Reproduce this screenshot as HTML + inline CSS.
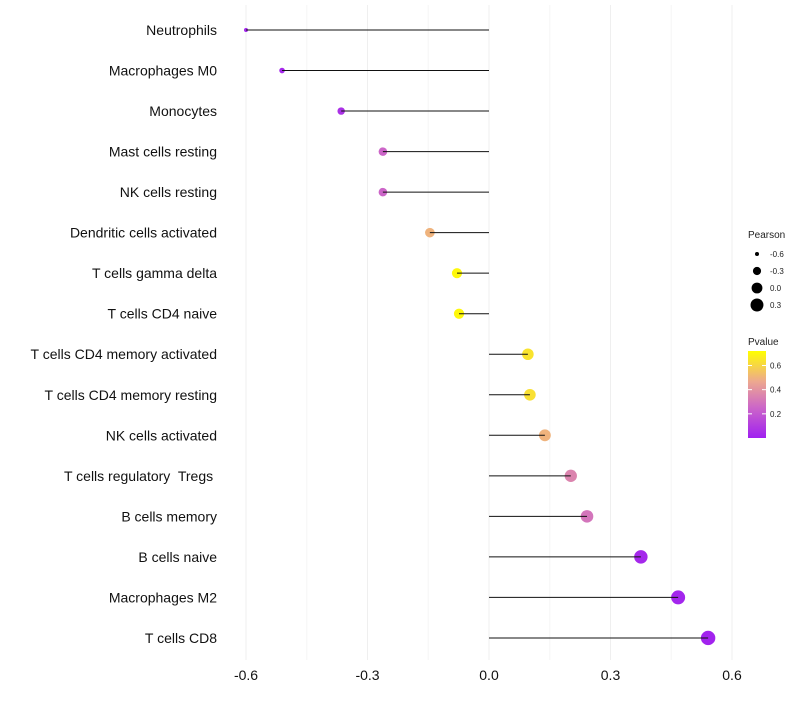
<!DOCTYPE html>
<html><head><meta charset="utf-8"><style>
body{margin:0;background:#fff;font-family:"Liberation Sans",sans-serif}
text{white-space:pre}
</style></head><body>
<svg id="chart" width="800" height="700" xmlns="http://www.w3.org/2000/svg">
<defs><linearGradient id="pg" x1="0" y1="1" x2="0" y2="0">
<stop offset="0" stop-color="#A020F0"/><stop offset="0.35" stop-color="#CC66C8"/><stop offset="0.65" stop-color="#EDA88F"/><stop offset="1" stop-color="#FFFF00"/>
</linearGradient></defs>
<g id="grid"></g><g id="marks"></g><g id="labels"></g><g id="legend"></g>
</svg>
<script>
const categories=["Neutrophils","Macrophages M0","Monocytes","Mast cells resting","NK cells resting","Dendritic cells activated","T cells gamma delta","T cells CD4 naive","T cells CD4 memory activated","T cells CD4 memory resting","NK cells activated","T cells regulatory  Tregs ","B cells memory","B cells naive","Macrophages M2","T cells CD8"];
const pearson=[-0.6,-0.511,-0.365,-0.262,-0.262,-0.146,-0.079,-0.074,0.096,0.101,0.138,0.202,0.242,0.375,0.467,0.541];
const pvalue=[0.02,0.03,0.06,0.25,0.25,0.5,0.7,0.7,0.64,0.63,0.5,0.35,0.3,0.03,0.02,0.01];
const xTicks=[-0.6,-0.3,0,0.3,0.6];
const xTickLabels=["-0.6","-0.3","0.0","0.3","0.6"];
const sizeLegend=[-0.6,-0.3,0.0,0.3];
const sizeLegendLabels=["-0.6","-0.3","0.0","0.3"];
const pLegend=[0.2,0.4,0.6];
const pMin=0.0,pMax=0.72;
const NS="http://www.w3.org/2000/svg";
const x=v=>489+v*405;
const y=i=>30+i*40.53;
const r=v=>Math.sqrt(Math.max(1,4+(v+0.6)*42.2));
function lerp(a,b,t){return a+(b-a)*t}
const stops=[[0,[160,32,240]],[0.35,[204,102,200]],[0.65,[237,168,143]],[1,[255,255,0]]];
function col(p){let t=(p-pMin)/(pMax-pMin);t=Math.max(0,Math.min(1,t));
for(let k=1;k<stops.length;k++){if(t<=stops[k][0]){const a=stops[k-1],b=stops[k];const u=(t-a[0])/(b[0]-a[0]);
return "rgb("+a[1].map((c,j)=>Math.round(lerp(c,b[1][j],u))).join(",")+")";}}return "rgb(255,255,0)";}
function mk(tag,attrs,parent){const e=document.createElementNS(NS,tag);for(const k in attrs)e.setAttribute(k,attrs[k]);parent.appendChild(e);return e;}
const grid=document.getElementById('grid'),marks=document.getElementById('marks'),labels=document.getElementById('labels'),legend=document.getElementById('legend');
for(let k=0;k<=8;k++){const v=-0.6+k*0.15;const g=mk('line',{x1:x(v),x2:x(v),y1:5,y2:660,stroke:k%2?'#f6f6f6':'#efefef','stroke-width':1},grid);

}
xTicks.forEach((v,i)=>{const t=mk('text',{x:x(v),y:680,'text-anchor':'middle','font-size':14,fill:'#111'},labels);t.textContent=xTickLabels[i];

});
categories.forEach((c,i)=>{const t=mk('text',{x:217,y:y(i)+5,'text-anchor':'end','font-size':14,fill:'#111'},labels);t.textContent=c;


const pt=mk('circle',{cx:x(pearson[i]),cy:y(i),r:r(pearson[i]),fill:col(pvalue[i])},marks);


const ln=mk('line',{x1:x(0),x2:x(pearson[i]),y1:y(i),y2:y(i),stroke:'#111','stroke-width':1},marks);

});
let tt=mk('text',{x:748,y:238,'font-size':10,fill:'#222'},legend);tt.textContent="Pearson";


sizeLegend.forEach((v,i)=>{const cy=254+i*17;const c=mk('circle',{cx:757,cy:cy,r:r(v),fill:'#000'},legend);


const t=mk('text',{x:770,y:cy+3,'font-size':8,fill:'#222'},legend);t.textContent=sizeLegendLabels[i];

});
tt=mk('text',{x:748,y:345,'font-size':10,fill:'#222'},legend);tt.textContent="Pvalue";


const bar=mk('rect',{x:748,y:351,width:18,height:87,fill:'url(#pg)'},legend);


const py=p=>438-(p-pMin)/(pMax-pMin)*87;
pLegend.forEach(p=>{mk('line',{x1:748,x2:752,y1:py(p),y2:py(p),stroke:'#fff'},legend);mk('line',{x1:762,x2:766,y1:py(p),y2:py(p),stroke:'#fff'},legend);
const t=mk('text',{x:770,y:py(p)+3,'font-size':8,fill:'#222'},legend);t.textContent=p.toFixed(1);

});
</script>
</body></html>
